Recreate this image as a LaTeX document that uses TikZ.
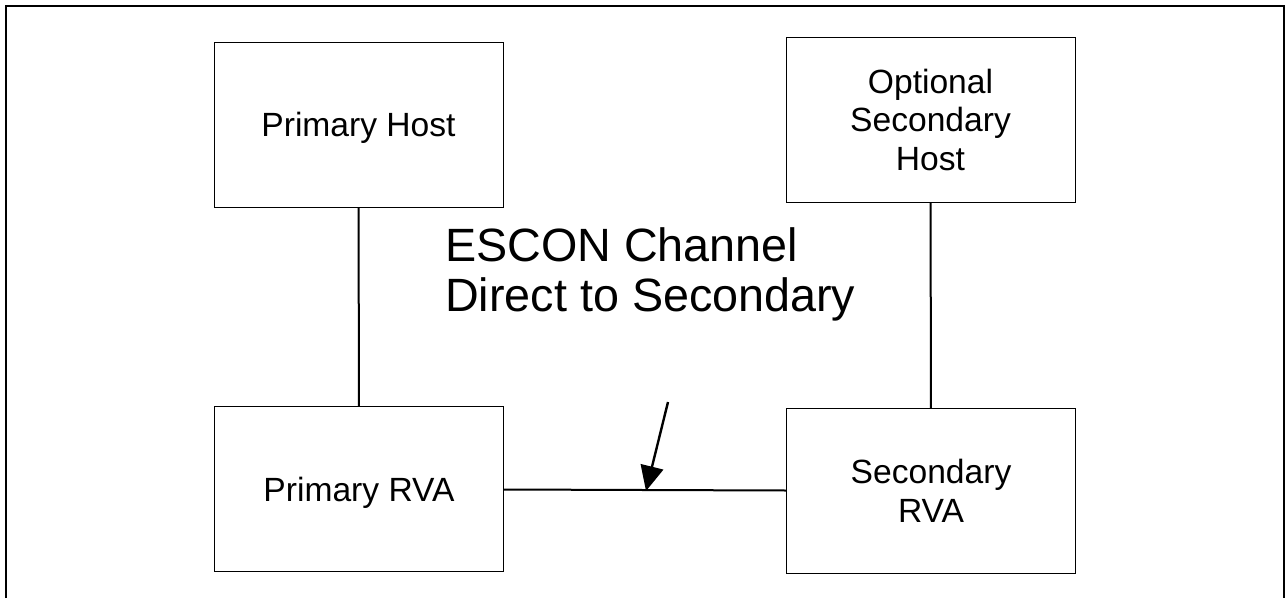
\documentclass[tikz,border=0pt]{standalone}
\usepackage{fontspec}
\setmainfont{Liberation Sans}
\usetikzlibrary{arrows.meta}
\begin{document}
\begin{tikzpicture}[x=1pt,y=-1pt,
  box/.style={draw,line width=1pt,minimum width=289pt,minimum height=165pt,align=center,inner sep=0pt,text depth=0pt,font=\fontsize{33.6}{38.5}\selectfont},
  link/.style={line width=2pt}]
\useasboundingbox (0,0) rectangle (1285,598);
% frame
\draw[line width=1.2pt] (6,598) -- (6,6) -- (1284,6) -- (1284,598);

\node[box] (ph) at (358.5,124.5) {Primary Host};
\node[box] (sh) at (930.5,119.5) {Optional\\Secondary\\Host};
\node[box] (pr) at (359,489) {Primary RVA};
\node[box] (sr) at (931,491) {Secondary\\RVA};

\draw[link] (ph) -- (pr);
\draw[link] (sh) -- (sr);
\draw[link] (pr) -- (sr);

\node[anchor=north west,align=left,inner sep=0pt,font=\fontsize{46.7}{50}\selectfont] (esc) at (445,227) {ESCON Channel\\Direct to Secondary};
\coordinate (tail) at (668,402);
\coordinate (head) at (646,491);
\draw[line width=2.4pt,-{Triangle[length=25pt,width=23pt]}] (tail) -- (head);

\end{tikzpicture}
\end{document}
